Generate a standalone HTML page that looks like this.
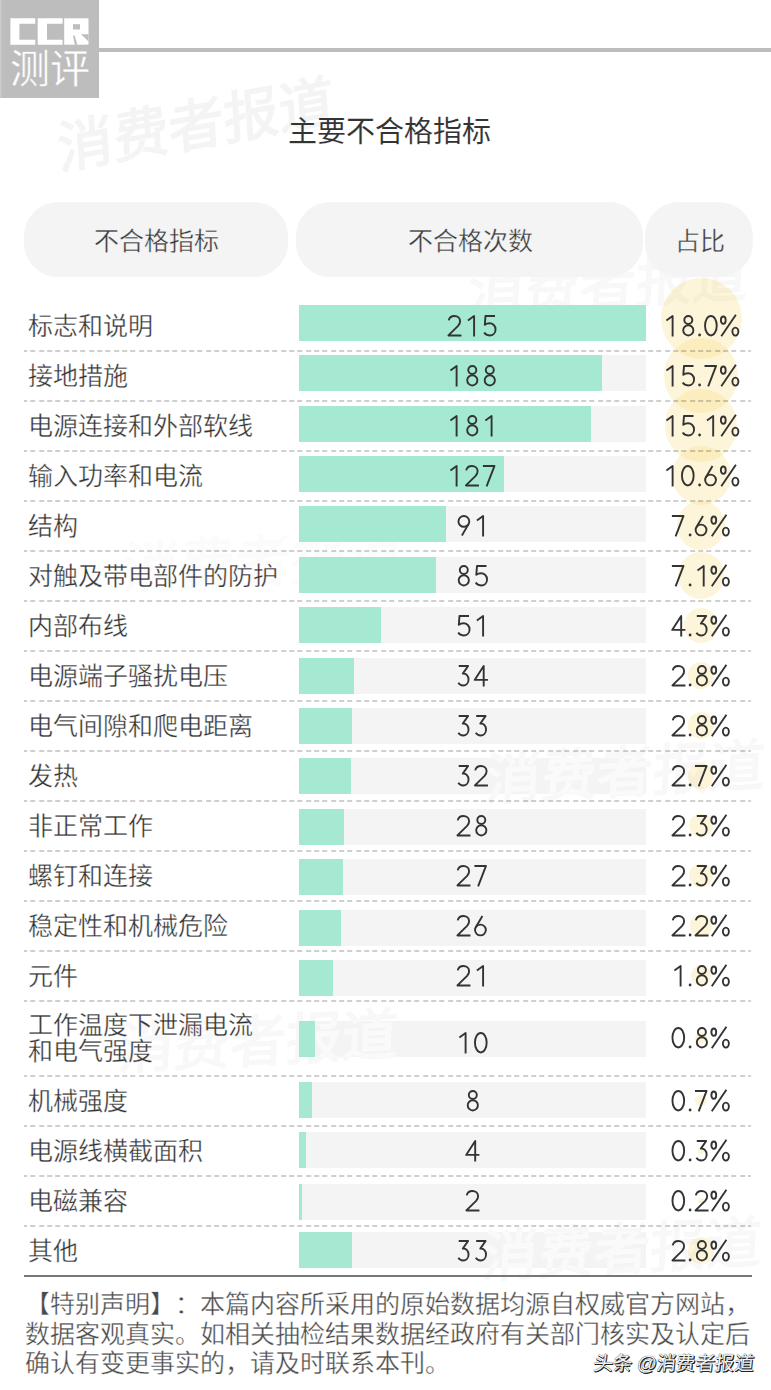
<!DOCTYPE html>
<html lang="zh-CN"><head><meta charset="utf-8"><title>主要不合格指标</title>
<style>
html,body{margin:0;padding:0;background:#fff}
body{width:771px;height:1390px;position:relative;overflow:hidden;text-spacing-trim:space-all;font-family:"Liberation Sans",sans-serif;color:#333}
#logo{position:absolute;left:0;top:0;width:99px;height:98px;background:#bdbdbd;box-shadow:inset 1.5px 0 0 #cbcbcb}
#hline{position:absolute;left:99px;top:48px;width:672px;height:4px;background:#bdbdbd}
#ceping{position:absolute;left:10px;top:43px;font-size:40px;line-height:52px;color:#fff;letter-spacing:0px;-webkit-text-stroke:0.4px #bdbdbd}
.wm{position:absolute;font-size:56px;font-weight:700;color:rgba(0,0,0,0.045);transform:rotate(-10deg) skewX(-6deg);transform-origin:0 0;white-space:nowrap;line-height:60px}
#title{position:absolute;left:0;width:771px;top:111.5px;text-align:center;font-size:29px;line-height:40px;color:#333;padding-left:7px;-webkit-text-stroke:0.1px #fff;box-sizing:border-box}
.pill{position:absolute;top:202px;height:75px;border-radius:34px;background:#f4f4f4;text-align:center;line-height:75px;font-size:25px;color:#3a3a3a;box-sizing:border-box;padding-top:2px;-webkit-text-stroke:0.35px #f4f4f4}
.cir{position:absolute;border-radius:50%;background:rgba(245,210,80,0.21)}
.lab{position:absolute;left:28px;font-size:25px;color:#333;white-space:nowrap;-webkit-text-stroke:0.35px #fff}
.trk{position:absolute;left:299px;width:347px;height:36px;background:#f4f4f4;overflow:hidden}
.wmw{position:absolute;font-size:56px;font-weight:700;color:rgba(255,255,255,0.55);transform:rotate(-10deg) skewX(-6deg);transform-origin:0 0;white-space:nowrap;line-height:60px}
.bar{position:absolute;left:299px;height:36px;background:#a6e9d3}
.num{position:absolute;left:299px;width:347px;text-align:center;font-size:30px;color:transparent}
.pct{position:absolute;left:646px;width:110px;text-align:center;font-size:28px;color:transparent}
.dg{position:absolute;fill:none;stroke:#333;stroke-width:1.9;stroke-linejoin:round;color:#333;overflow:visible}
.dash{position:absolute;left:24px;width:727px;height:2px;background:repeating-linear-gradient(90deg,rgba(0,0,0,0.19) 0 5px,transparent 5px 8.345px);background-position:-1.8px 0}
#bline{position:absolute;left:24px;top:1274.5px;width:728px;height:2px;background:#777}
#foot{position:absolute;left:25px;top:1290px;width:750px;font-size:25px;line-height:29.5px;color:#4a4a4a;white-space:nowrap;-webkit-text-stroke:0.35px #fff}
#tt{position:absolute;left:592px;top:1350px;font-size:19.5px;line-height:26px;color:#f4f4f4;font-weight:400;text-shadow:1px 1px 0 #222,0.5px 0.5px 0.5px #000,0 0 1px #000;word-spacing:0px;letter-spacing:-0.5px;transform:skewX(-6deg);transform-origin:0 100%}
</style></head><body>
<svg width="0" height="0" style="position:absolute;left:0;top:0" aria-hidden="true"><defs><g id="g0"><ellipse cx="8.3" cy="10.7" rx="5.85" ry="9.75"/></g><g id="g1"><path d="M4.4 5.4L10.6 0.95V21.4"/></g><g id="g2"><path d="M2.7 5.4C3.3 2.6 5.6 0.95 8.4 0.95C11.7 0.95 14.1 3.2 14.1 6.2C14.1 8.1 13.3 9.5 12.1 10.9L2.4 20.45H15.45"/></g><g id="g3"><path d="M3.7 0.95H13.1L7.8 8.6C11.3 8.3 13.55 10.9 13.55 14.5C13.55 18.3 11 20.45 8.2 20.45C5.9 20.45 4.3 19.5 3.3 17.8"/></g><g id="g4"><path d="M11.2 21.4V1L2.15 14.9H15.4"/></g><g id="g5"><path d="M14 0.95H4.5L3.8 9.9C5.1 8.8 6.7 8.3 8.5 8.3C11.9 8.3 14.55 10.9 14.55 14.4C14.55 18.2 11.9 20.45 8.6 20.45C6.1 20.45 4.2 19.3 3.2 17.6"/></g><g id="g6"><path d="M9.9 0.95L3.29 12.28"/><circle cx="7.95" cy="15" r="5.4"/></g><g id="g7"><path d="M1.9 0.95H13.5L5.6 21.4"/></g><g id="g8"><circle cx="8.8" cy="4.95" r="4.0"/><circle cx="8.8" cy="15.35" r="5.1"/></g><g id="g9"><path d="M6.9 20.45L13.51 9.12"/><circle cx="8.85" cy="6.4" r="5.4"/></g><g id="gdot"><circle cx="2.6" cy="20.0" r="1.4" fill="currentColor" stroke="none"/></g><g id="gpct"><ellipse cx="3.2" cy="5.2" rx="2.4" ry="3.7"/><ellipse cx="15.3" cy="16.6" rx="3.0" ry="4.0"/><path d="M1.2 21.3L15.8 -0.2"/></g></defs></svg>
<div class="wm" style="left:56px;top:120px;transform:rotate(-10deg) skewX(-6deg)">消费者报道</div>
<div class="wm" style="left:470px;top:262px;transform:rotate(-3deg) skewX(-6deg);color:rgba(0,0,0,0.026)">消费者报道</div>
<div class="wm" style="left:125px;top:540px;transform:rotate(-3deg) skewX(-6deg);color:rgba(0,0,0,0.014)">消费者报道</div>
<div class="wm" style="left:487px;top:751px;transform:rotate(-3deg) skewX(-6deg);color:rgba(0,0,0,0.026)">消费者报道</div>
<div class="wm" style="left:120px;top:1020px;transform:rotate(-3deg) skewX(-6deg);color:rgba(0,0,0,0.026)">消费者报道</div>
<div class="wm" style="left:484px;top:1228px;transform:rotate(-3deg) skewX(-6deg);color:rgba(0,0,0,0.026)">消费者报道</div>
<div id="logo">
<svg width="99" height="98" viewBox="0 0 99 98" style="position:absolute;left:0;top:0">
<path fill="#fff" d="M10.4 18.3H35.3V23.7H19.4V39.7H35.3V44.7H10.4Z"/>
<path fill="#fff" d="M37.7 18.3H62.6V23.7H47V39.7H62.6V44.7H37.7Z"/>
<path fill="#fff" d="M64.2 18.3H88.5V44.7H64.2Z"/>
<path fill="#bdbdbd" d="M73 24.2H80V29.5H73Z"/>
<path fill="#bdbdbd" d="M73 35.5L74.6 35.5L77.4 44.7L74.8 44.7Z"/>
<path fill="#bdbdbd" d="M81 34.2H88.5V41.5Z"/>
</svg>
<div id="ceping">测评</div>
</div>
<div id="hline"></div>
<div id="title">主要不合格指标</div>
<div class="pill" style="left:24px;width:264px;padding-left:0px">不合格指标</div>
<div class="pill" style="left:295.5px;width:347px;padding-left:3px">不合格次数</div>
<div class="pill" style="left:644.5px;width:108px;padding-left:3px">占比</div>
<div class="cir" style="left:660.5px;top:278.0px;width:81.0px;height:81.0px"></div>
<div class="cir" style="left:663.7px;top:338.2px;width:74.6px;height:74.6px"></div>
<div class="cir" style="left:664.6px;top:389.1px;width:72.9px;height:72.9px"></div>
<div class="cir" style="left:671.5px;top:446.0px;width:59.0px;height:59.0px"></div>
<div class="cir" style="left:676.9px;top:501.4px;width:48.3px;height:48.3px"></div>
<div class="cir" style="left:677.8px;top:552.3px;width:46.4px;height:46.4px"></div>
<div class="cir" style="left:683.8px;top:608.3px;width:34.3px;height:34.3px"></div>
<div class="cir" style="left:687.7px;top:662.2px;width:26.5px;height:26.5px"></div>
<div class="cir" style="left:687.7px;top:712.2px;width:26.5px;height:26.5px"></div>
<div class="cir" style="left:688.0px;top:762.5px;width:26.0px;height:26.0px"></div>
<div class="cir" style="left:689.2px;top:813.7px;width:23.6px;height:23.6px"></div>
<div class="cir" style="left:689.2px;top:863.7px;width:23.6px;height:23.6px"></div>
<div class="cir" style="left:689.5px;top:914.0px;width:22.9px;height:22.9px"></div>
<div class="cir" style="left:690.8px;top:965.3px;width:20.3px;height:20.3px"></div>
<div class="cir" style="left:694.7px;top:1031.7px;width:12.5px;height:12.5px"></div>
<div class="cir" style="left:695.2px;top:1094.7px;width:11.5px;height:11.5px"></div>
<div class="cir" style="left:697.5px;top:1147.0px;width:6.9px;height:6.9px"></div>
<div class="cir" style="left:698.3px;top:1197.8px;width:5.4px;height:5.4px"></div>
<div class="cir" style="left:687.7px;top:1237.2px;width:26.5px;height:26.5px"></div>
<div class="lab" style="top:300.5px;height:50px;line-height:50px;">标志和说明</div>
<div class="trk" style="top:304.7px"><div class="wmw" style="left:171px;top:-42.7px;transform:rotate(-3deg) skewX(-6deg)">消费者报道</div></div>
<div class="bar" style="top:304.7px;width:347.0px"></div>
<div class="num" style="top:300.5px;height:50px;line-height:50px">215</div>
<svg class="dg" style="left:446.25px;top:312.80px" width="54.5" height="25.4" viewBox="0 -2 54.5 25.4"><use href="#g2" x="0.00"/><use href="#g1" x="17.50"/><use href="#g5" x="35.00"/></svg>
<div class="pct" style="top:300.5px;height:50px;line-height:50px">18.0%</div>
<svg class="dg" style="left:661.70px;top:312.80px" width="80.6" height="25.4" viewBox="0 -2 80.6 25.4"><use href="#g1" x="0.00"/><use href="#g8" x="17.50"/><use href="#gdot" x="35.00"/><use href="#g0" x="40.60"/><use href="#gpct" x="58.10"/></svg>
<div class="dash" style="top:349.5px"></div>
<div class="lab" style="top:350.5px;height:50px;line-height:50px;">接地措施</div>
<div class="trk" style="top:355.1px"></div>
<div class="bar" style="top:355.1px;width:303.4px"></div>
<div class="num" style="top:350.5px;height:50px;line-height:50px">188</div>
<svg class="dg" style="left:446.25px;top:362.80px" width="54.5" height="25.4" viewBox="0 -2 54.5 25.4"><use href="#g1" x="0.00"/><use href="#g8" x="17.50"/><use href="#g8" x="35.00"/></svg>
<div class="pct" style="top:350.5px;height:50px;line-height:50px">15.7%</div>
<svg class="dg" style="left:661.70px;top:362.80px" width="80.6" height="25.4" viewBox="0 -2 80.6 25.4"><use href="#g1" x="0.00"/><use href="#g5" x="17.50"/><use href="#gdot" x="35.00"/><use href="#g7" x="40.60"/><use href="#gpct" x="58.10"/></svg>
<div class="dash" style="top:399.5px"></div>
<div class="lab" style="top:400.5px;height:50px;line-height:50px;">电源连接和外部软线</div>
<div class="trk" style="top:405.5px"></div>
<div class="bar" style="top:405.5px;width:292.1px"></div>
<div class="num" style="top:400.5px;height:50px;line-height:50px">181</div>
<svg class="dg" style="left:446.25px;top:412.80px" width="54.5" height="25.4" viewBox="0 -2 54.5 25.4"><use href="#g1" x="0.00"/><use href="#g8" x="17.50"/><use href="#g1" x="35.00"/></svg>
<div class="pct" style="top:400.5px;height:50px;line-height:50px">15.1%</div>
<svg class="dg" style="left:661.70px;top:412.80px" width="80.6" height="25.4" viewBox="0 -2 80.6 25.4"><use href="#g1" x="0.00"/><use href="#g5" x="17.50"/><use href="#gdot" x="35.00"/><use href="#g1" x="40.60"/><use href="#gpct" x="58.10"/></svg>
<div class="dash" style="top:449.5px"></div>
<div class="lab" style="top:450.5px;height:50px;line-height:50px;">输入功率和电流</div>
<div class="trk" style="top:455.9px"><div class="wmw" style="left:-174px;top:84.1px;transform:rotate(-3deg) skewX(-6deg)">消费者报道</div></div>
<div class="bar" style="top:455.9px;width:205.0px"></div>
<div class="num" style="top:450.5px;height:50px;line-height:50px">127</div>
<svg class="dg" style="left:446.25px;top:462.80px" width="54.5" height="25.4" viewBox="0 -2 54.5 25.4"><use href="#g1" x="0.00"/><use href="#g2" x="17.50"/><use href="#g7" x="35.00"/></svg>
<div class="pct" style="top:450.5px;height:50px;line-height:50px">10.6%</div>
<svg class="dg" style="left:661.70px;top:462.80px" width="80.6" height="25.4" viewBox="0 -2 80.6 25.4"><use href="#g1" x="0.00"/><use href="#g0" x="17.50"/><use href="#gdot" x="35.00"/><use href="#g6" x="40.60"/><use href="#gpct" x="58.10"/></svg>
<div class="dash" style="top:499.5px"></div>
<div class="lab" style="top:500.5px;height:50px;line-height:50px;">结构</div>
<div class="trk" style="top:506.3px"><div class="wmw" style="left:-174px;top:33.7px;transform:rotate(-3deg) skewX(-6deg)">消费者报道</div></div>
<div class="bar" style="top:506.3px;width:146.9px"></div>
<div class="num" style="top:500.5px;height:50px;line-height:50px">91</div>
<svg class="dg" style="left:455.00px;top:512.80px" width="37.0" height="25.4" viewBox="0 -2 37.0 25.4"><use href="#g9" x="0.00"/><use href="#g1" x="17.50"/></svg>
<div class="pct" style="top:500.5px;height:50px;line-height:50px">7.6%</div>
<svg class="dg" style="left:670.45px;top:512.80px" width="63.1" height="25.4" viewBox="0 -2 63.1 25.4"><use href="#g7" x="0.00"/><use href="#gdot" x="17.50"/><use href="#g6" x="23.10"/><use href="#gpct" x="40.60"/></svg>
<div class="dash" style="top:549.5px"></div>
<div class="lab" style="top:550.5px;height:50px;line-height:50px;">对触及带电部件的防护</div>
<div class="trk" style="top:556.7px"><div class="wmw" style="left:-174px;top:-16.7px;transform:rotate(-3deg) skewX(-6deg)">消费者报道</div></div>
<div class="bar" style="top:556.7px;width:137.2px"></div>
<div class="num" style="top:550.5px;height:50px;line-height:50px">85</div>
<svg class="dg" style="left:455.00px;top:562.80px" width="37.0" height="25.4" viewBox="0 -2 37.0 25.4"><use href="#g8" x="0.00"/><use href="#g5" x="17.50"/></svg>
<div class="pct" style="top:550.5px;height:50px;line-height:50px">7.1%</div>
<svg class="dg" style="left:670.45px;top:562.80px" width="63.1" height="25.4" viewBox="0 -2 63.1 25.4"><use href="#g7" x="0.00"/><use href="#gdot" x="17.50"/><use href="#g1" x="23.10"/><use href="#gpct" x="40.60"/></svg>
<div class="dash" style="top:599.5px"></div>
<div class="lab" style="top:600.5px;height:50px;line-height:50px;">内部布线</div>
<div class="trk" style="top:607.1px"></div>
<div class="bar" style="top:607.1px;width:82.3px"></div>
<div class="num" style="top:600.5px;height:50px;line-height:50px">51</div>
<svg class="dg" style="left:455.00px;top:612.80px" width="37.0" height="25.4" viewBox="0 -2 37.0 25.4"><use href="#g5" x="0.00"/><use href="#g1" x="17.50"/></svg>
<div class="pct" style="top:600.5px;height:50px;line-height:50px">4.3%</div>
<svg class="dg" style="left:670.45px;top:612.80px" width="63.1" height="25.4" viewBox="0 -2 63.1 25.4"><use href="#g4" x="0.00"/><use href="#gdot" x="17.50"/><use href="#g3" x="23.10"/><use href="#gpct" x="40.60"/></svg>
<div class="dash" style="top:649.5px"></div>
<div class="lab" style="top:650.5px;height:50px;line-height:50px;">电源端子骚扰电压</div>
<div class="trk" style="top:657.5px"></div>
<div class="bar" style="top:657.5px;width:54.9px"></div>
<div class="num" style="top:650.5px;height:50px;line-height:50px">34</div>
<svg class="dg" style="left:455.00px;top:662.80px" width="37.0" height="25.4" viewBox="0 -2 37.0 25.4"><use href="#g3" x="0.00"/><use href="#g4" x="17.50"/></svg>
<div class="pct" style="top:650.5px;height:50px;line-height:50px">2.8%</div>
<svg class="dg" style="left:670.45px;top:662.80px" width="63.1" height="25.4" viewBox="0 -2 63.1 25.4"><use href="#g2" x="0.00"/><use href="#gdot" x="17.50"/><use href="#g8" x="23.10"/><use href="#gpct" x="40.60"/></svg>
<div class="dash" style="top:699.5px"></div>
<div class="lab" style="top:700.5px;height:50px;line-height:50px;">电气间隙和爬电距离</div>
<div class="trk" style="top:707.9px"><div class="wmw" style="left:188px;top:43.1px;transform:rotate(-3deg) skewX(-6deg)">消费者报道</div></div>
<div class="bar" style="top:707.9px;width:53.3px"></div>
<div class="num" style="top:700.5px;height:50px;line-height:50px">33</div>
<svg class="dg" style="left:455.00px;top:712.80px" width="37.0" height="25.4" viewBox="0 -2 37.0 25.4"><use href="#g3" x="0.00"/><use href="#g3" x="17.50"/></svg>
<div class="pct" style="top:700.5px;height:50px;line-height:50px">2.8%</div>
<svg class="dg" style="left:670.45px;top:712.80px" width="63.1" height="25.4" viewBox="0 -2 63.1 25.4"><use href="#g2" x="0.00"/><use href="#gdot" x="17.50"/><use href="#g8" x="23.10"/><use href="#gpct" x="40.60"/></svg>
<div class="dash" style="top:749.5px"></div>
<div class="lab" style="top:750.5px;height:50px;line-height:50px;">发热</div>
<div class="trk" style="top:758.3px"><div class="wmw" style="left:188px;top:-7.3px;transform:rotate(-3deg) skewX(-6deg)">消费者报道</div></div>
<div class="bar" style="top:758.3px;width:51.6px"></div>
<div class="num" style="top:750.5px;height:50px;line-height:50px">32</div>
<svg class="dg" style="left:455.00px;top:762.80px" width="37.0" height="25.4" viewBox="0 -2 37.0 25.4"><use href="#g3" x="0.00"/><use href="#g2" x="17.50"/></svg>
<div class="pct" style="top:750.5px;height:50px;line-height:50px">2.7%</div>
<svg class="dg" style="left:670.45px;top:762.80px" width="63.1" height="25.4" viewBox="0 -2 63.1 25.4"><use href="#g2" x="0.00"/><use href="#gdot" x="17.50"/><use href="#g7" x="23.10"/><use href="#gpct" x="40.60"/></svg>
<div class="dash" style="top:799.5px"></div>
<div class="lab" style="top:800.5px;height:50px;line-height:50px;">非正常工作</div>
<div class="trk" style="top:808.7px"><div class="wmw" style="left:188px;top:-57.7px;transform:rotate(-3deg) skewX(-6deg)">消费者报道</div></div>
<div class="bar" style="top:808.7px;width:45.2px"></div>
<div class="num" style="top:800.5px;height:50px;line-height:50px">28</div>
<svg class="dg" style="left:455.00px;top:812.80px" width="37.0" height="25.4" viewBox="0 -2 37.0 25.4"><use href="#g2" x="0.00"/><use href="#g8" x="17.50"/></svg>
<div class="pct" style="top:800.5px;height:50px;line-height:50px">2.3%</div>
<svg class="dg" style="left:670.45px;top:812.80px" width="63.1" height="25.4" viewBox="0 -2 63.1 25.4"><use href="#g2" x="0.00"/><use href="#gdot" x="17.50"/><use href="#g3" x="23.10"/><use href="#gpct" x="40.60"/></svg>
<div class="dash" style="top:849.5px"></div>
<div class="lab" style="top:850.5px;height:50px;line-height:50px;">螺钉和连接</div>
<div class="trk" style="top:859.1px"></div>
<div class="bar" style="top:859.1px;width:43.6px"></div>
<div class="num" style="top:850.5px;height:50px;line-height:50px">27</div>
<svg class="dg" style="left:455.00px;top:862.80px" width="37.0" height="25.4" viewBox="0 -2 37.0 25.4"><use href="#g2" x="0.00"/><use href="#g7" x="17.50"/></svg>
<div class="pct" style="top:850.5px;height:50px;line-height:50px">2.3%</div>
<svg class="dg" style="left:670.45px;top:862.80px" width="63.1" height="25.4" viewBox="0 -2 63.1 25.4"><use href="#g2" x="0.00"/><use href="#gdot" x="17.50"/><use href="#g3" x="23.10"/><use href="#gpct" x="40.60"/></svg>
<div class="dash" style="top:899.5px"></div>
<div class="lab" style="top:900.5px;height:50px;line-height:50px;">稳定性和机械危险</div>
<div class="trk" style="top:909.5px"></div>
<div class="bar" style="top:909.5px;width:42.0px"></div>
<div class="num" style="top:900.5px;height:50px;line-height:50px">26</div>
<svg class="dg" style="left:455.00px;top:912.80px" width="37.0" height="25.4" viewBox="0 -2 37.0 25.4"><use href="#g2" x="0.00"/><use href="#g6" x="17.50"/></svg>
<div class="pct" style="top:900.5px;height:50px;line-height:50px">2.2%</div>
<svg class="dg" style="left:670.45px;top:912.80px" width="63.1" height="25.4" viewBox="0 -2 63.1 25.4"><use href="#g2" x="0.00"/><use href="#gdot" x="17.50"/><use href="#g2" x="23.10"/><use href="#gpct" x="40.60"/></svg>
<div class="dash" style="top:949.5px"></div>
<div class="lab" style="top:950.5px;height:50px;line-height:50px;">元件</div>
<div class="trk" style="top:959.9px"><div class="wmw" style="left:-179px;top:60.1px;transform:rotate(-3deg) skewX(-6deg)">消费者报道</div></div>
<div class="bar" style="top:959.9px;width:33.9px"></div>
<div class="num" style="top:950.5px;height:50px;line-height:50px">21</div>
<svg class="dg" style="left:455.00px;top:962.80px" width="37.0" height="25.4" viewBox="0 -2 37.0 25.4"><use href="#g2" x="0.00"/><use href="#g1" x="17.50"/></svg>
<div class="pct" style="top:950.5px;height:50px;line-height:50px">1.8%</div>
<svg class="dg" style="left:670.45px;top:962.80px" width="63.1" height="25.4" viewBox="0 -2 63.1 25.4"><use href="#g1" x="0.00"/><use href="#gdot" x="17.50"/><use href="#g8" x="23.10"/><use href="#gpct" x="40.60"/></svg>
<div class="dash" style="top:999.5px"></div>
<div class="lab two" style="top:1000.5px;height:75px;line-height:26px;padding-top:11px;height:64px;">工作温度下泄漏电流<br>和电气强度</div>
<div class="trk" style="top:1021.0px"><div class="wmw" style="left:-179px;top:-1.0px;transform:rotate(-3deg) skewX(-6deg)">消费者报道</div></div>
<div class="bar" style="top:1021.0px;width:16.1px"></div>
<div class="num" style="top:1005.0px;height:75px;line-height:75px">10</div>
<svg class="dg" style="left:455.00px;top:1029.80px" width="37.0" height="25.4" viewBox="0 -2 37.0 25.4"><use href="#g1" x="0.00"/><use href="#g0" x="17.50"/></svg>
<div class="pct" style="top:1000.5px;height:75px;line-height:75px">0.8%</div>
<svg class="dg" style="left:670.45px;top:1025.30px" width="63.1" height="25.4" viewBox="0 -2 63.1 25.4"><use href="#g0" x="0.00"/><use href="#gdot" x="17.50"/><use href="#g8" x="23.10"/><use href="#gpct" x="40.60"/></svg>
<div class="dash" style="top:1074.5px"></div>
<div class="lab" style="top:1075.5px;height:50px;line-height:50px;">机械强度</div>
<div class="trk" style="top:1082.0px"><div class="wmw" style="left:-179px;top:-62.0px;transform:rotate(-3deg) skewX(-6deg)">消费者报道</div></div>
<div class="bar" style="top:1082.0px;width:12.9px"></div>
<div class="num" style="top:1075.5px;height:50px;line-height:50px">8</div>
<svg class="dg" style="left:463.75px;top:1087.80px" width="19.5" height="25.4" viewBox="0 -2 19.5 25.4"><use href="#g8" x="0.00"/></svg>
<div class="pct" style="top:1075.5px;height:50px;line-height:50px">0.7%</div>
<svg class="dg" style="left:670.45px;top:1087.80px" width="63.1" height="25.4" viewBox="0 -2 63.1 25.4"><use href="#g0" x="0.00"/><use href="#gdot" x="17.50"/><use href="#g7" x="23.10"/><use href="#gpct" x="40.60"/></svg>
<div class="dash" style="top:1124.5px"></div>
<div class="lab" style="top:1125.5px;height:50px;line-height:50px;">电源线横截面积</div>
<div class="trk" style="top:1132.0px"></div>
<div class="bar" style="top:1132.0px;width:6.5px"></div>
<div class="num" style="top:1125.5px;height:50px;line-height:50px">4</div>
<svg class="dg" style="left:463.75px;top:1137.80px" width="19.5" height="25.4" viewBox="0 -2 19.5 25.4"><use href="#g4" x="0.00"/></svg>
<div class="pct" style="top:1125.5px;height:50px;line-height:50px">0.3%</div>
<svg class="dg" style="left:670.45px;top:1137.80px" width="63.1" height="25.4" viewBox="0 -2 63.1 25.4"><use href="#g0" x="0.00"/><use href="#gdot" x="17.50"/><use href="#g3" x="23.10"/><use href="#gpct" x="40.60"/></svg>
<div class="dash" style="top:1174.5px"></div>
<div class="lab" style="top:1175.5px;height:50px;line-height:50px;">电磁兼容</div>
<div class="trk" style="top:1184.0px"><div class="wmw" style="left:185px;top:44.0px;transform:rotate(-3deg) skewX(-6deg)">消费者报道</div></div>
<div class="bar" style="top:1184.0px;width:3.2px"></div>
<div class="num" style="top:1175.5px;height:50px;line-height:50px">2</div>
<svg class="dg" style="left:463.75px;top:1187.80px" width="19.5" height="25.4" viewBox="0 -2 19.5 25.4"><use href="#g2" x="0.00"/></svg>
<div class="pct" style="top:1175.5px;height:50px;line-height:50px">0.2%</div>
<svg class="dg" style="left:670.45px;top:1187.80px" width="63.1" height="25.4" viewBox="0 -2 63.1 25.4"><use href="#g0" x="0.00"/><use href="#gdot" x="17.50"/><use href="#g2" x="23.10"/><use href="#gpct" x="40.60"/></svg>
<div class="dash" style="top:1224.5px"></div>
<div class="lab" style="top:1225.5px;height:50px;line-height:50px;">其他</div>
<div class="trk" style="top:1232.0px"><div class="wmw" style="left:185px;top:-4.0px;transform:rotate(-3deg) skewX(-6deg)">消费者报道</div></div>
<div class="bar" style="top:1232.0px;width:53.3px"></div>
<div class="num" style="top:1225.5px;height:50px;line-height:50px">33</div>
<svg class="dg" style="left:455.00px;top:1237.80px" width="37.0" height="25.4" viewBox="0 -2 37.0 25.4"><use href="#g3" x="0.00"/><use href="#g3" x="17.50"/></svg>
<div class="pct" style="top:1225.5px;height:50px;line-height:50px">2.8%</div>
<svg class="dg" style="left:670.45px;top:1237.80px" width="63.1" height="25.4" viewBox="0 -2 63.1 25.4"><use href="#g2" x="0.00"/><use href="#gdot" x="17.50"/><use href="#g8" x="23.10"/><use href="#gpct" x="40.60"/></svg>
<div id="bline"></div>
<div id="foot">【特别声明】：本篇内容所采用的原始数据均源自权威官方网站，<br>数据客观真实。如相关抽检结果数据经政府有关部门核实及认定后<br>确认有变更事实的，请及时联系本刊。</div>
<div id="tt">头条 @消费者报道</div>
</body></html>
